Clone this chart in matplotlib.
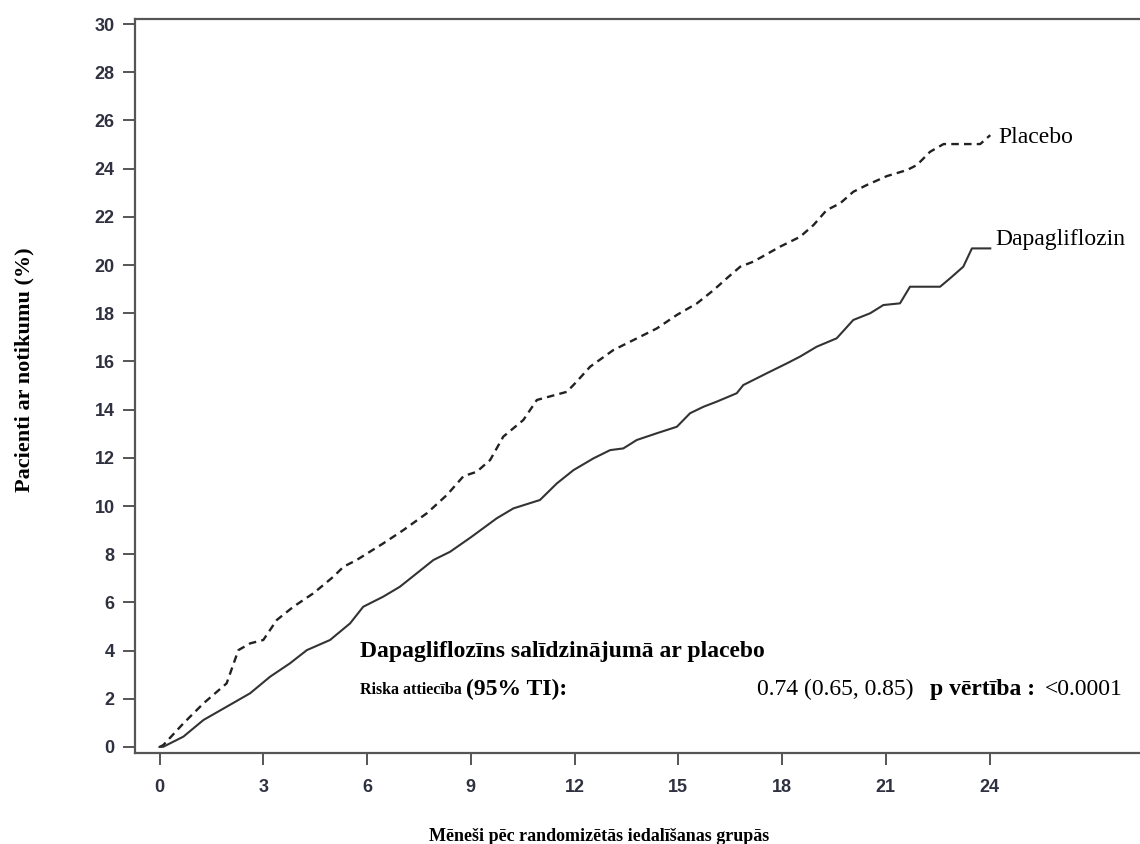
import matplotlib
matplotlib.use("Agg")
import matplotlib.pyplot as plt

# values (months, % of patients with event)
placebo_m = [0, 0.11, 0.69, 1.27, 1.94, 2.28, 2.62, 3.0, 3.39, 3.87, 4.45, 5.03, 5.32,
             5.70, 6.47, 7.05, 7.73, 8.31, 8.79, 9.17, 9.56, 9.94, 10.52, 10.91, 11.78,
             12.06, 12.45, 13.12, 13.61, 14.38, 14.96, 15.54, 16.02, 16.45, 16.79, 17.17,
             17.94, 18.52, 18.91, 19.29, 19.68, 20.06, 20.45, 21.03, 21.61, 21.90, 22.28,
             22.67, 23.73, 24.02]
placebo_pct = [0, 0.08, 0.98, 1.81, 2.64, 4.02, 4.3, 4.44, 5.27, 5.82, 6.38, 7.07, 7.48,
               7.76, 8.45, 9.0, 9.70, 10.46, 11.24, 11.42, 11.91, 12.88, 13.57, 14.40, 14.74,
               15.16, 15.78, 16.47, 16.82, 17.37, 17.93, 18.41, 18.96, 19.51, 19.93, 20.14,
               20.76, 21.17, 21.66, 22.28, 22.56, 23.04, 23.32, 23.69, 23.94, 24.15, 24.70,
               25.02, 25.02, 25.39]

dapa_m = [0, 0.11, 0.69, 1.27, 1.94, 2.62, 3.2, 3.77, 4.26, 4.93, 5.51, 5.89, 6.47, 6.95,
          7.44, 7.92, 8.4, 9.0, 9.75, 10.23, 11.0, 11.49, 11.97, 12.55, 13.03, 13.41, 13.80,
          14.38, 14.96, 15.34, 15.73, 16.11, 16.69, 16.88, 17.56, 18.14, 18.52, 19.0, 19.58,
          20.06, 20.55, 20.93, 21.41, 21.70, 22.57, 22.86, 23.24, 23.49, 24.02]
dapa_pct = [0, 0.01, 0.43, 1.12, 1.67, 2.23, 2.92, 3.47, 4.02, 4.44, 5.13, 5.82, 6.24, 6.65,
            7.21, 7.76, 8.10, 8.7, 9.49, 9.90, 10.25, 10.94, 11.49, 11.98, 12.32, 12.39, 12.74,
            13.02, 13.29, 13.85, 14.12, 14.33, 14.68, 15.02, 15.51, 15.92, 16.20, 16.61, 16.96,
            17.72, 18.0, 18.34, 18.41, 19.10, 19.10, 19.45, 19.93, 20.69, 20.69]

x_ticks = list(range(0, 25, 3))
y_ticks = list(range(0, 31, 2))

serif = "Liberation Serif"
axis_grey = "#555555"

fig = plt.figure(figsize=(11.4, 8.44), dpi=100)
ax = fig.add_axes([0.1184, 0.1078, 0.8816, 0.8697])

ax.plot(placebo_m, placebo_pct, color="#222222", lw=1.7, ls=(0, (3.2, 2.2)))
ax.plot(dapa_m, dapa_pct, color="#333333", lw=1.5)

ax.set_xlim(-0.71, 28.35)
ax.set_ylim(-0.25, 30.21)
ax.set_xticks(x_ticks)
ax.set_yticks(y_ticks)

for side in ["left", "bottom", "top"]:
    ax.spines[side].set_color(axis_grey)
    ax.spines[side].set_linewidth(1.6)
ax.spines["right"].set_visible(False)

ax.tick_params(axis="both", color=axis_grey, width=1.4, length=8.5,
               labelcolor="#2f3140")
ax.tick_params(axis="y", pad=6)
ax.tick_params(axis="x", pad=10)
for lab in ax.get_xticklabels() + ax.get_yticklabels():
    lab.set_fontfamily("Liberation Sans")
    lab.set_fontweight("bold")
    lab.set_fontsize(13)

ax.set_xlabel("Mēneši pēc randomizētās iedalīšanas grupās", family=serif,
              fontweight="bold", fontsize=13)
ax.xaxis.set_label_coords(0.4616, -0.102)
ax.set_ylabel("Pacienti ar notikumu (%)", family=serif, fontweight="bold", fontsize=16)
ax.yaxis.set_label_coords(-0.1, 0.522)

# curve labels
ax.text(24.25, 25.3, "Placebo", family=serif, fontsize=17, va="center")
ax.text(24.16, 21.05, "Dapagliflozin", family=serif, fontsize=17, va="center")

# hazard ratio box
ax.text(5.8, 3.98, "Dapagliflozīns salīdzinājumā ar placebo", family=serif,
        fontweight="bold", fontsize=17, va="center")
ax.text(5.8, 2.37, "Riska attiecība", family=serif, fontweight="bold", fontsize=11.5,
        va="center")
ax.text(8.86, 2.37, "(95% TI):", family=serif, fontweight="bold", fontsize=17,
        va="center")
ax.text(17.28, 2.37, "0.74 (0.65, 0.85)", family=serif, fontsize=17, va="center")
ax.text(22.28, 2.37, "p vērtība :", family=serif, fontweight="bold", fontsize=17,
        va="center")
ax.text(25.61, 2.37, "<0.0001", family=serif, fontsize=17, va="center")

fig.savefig("out.png", dpi=100)
